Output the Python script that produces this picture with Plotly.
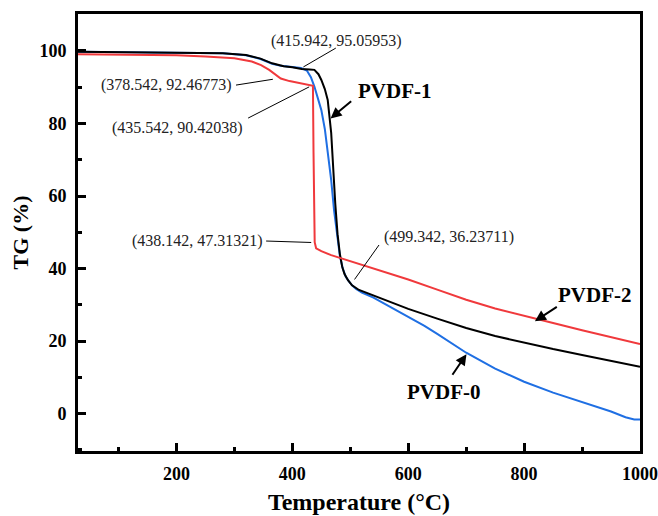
import plotly.graph_objects as go

# ---- data ----
t_pvdf0 = [30, 100, 200, 280, 320, 345, 365, 380, 400, 415, 425, 432, 438, 444, 450, 456, 461,
           467, 472, 477, 482, 487, 492, 497, 503, 510, 520, 540, 560, 600, 628, 650, 700, 750,
           800, 850, 900, 950, 975, 990, 1000]
v_pvdf0 = [99.8, 99.7, 99.6, 99.4, 98.8, 97.8, 96.5, 95.9, 95.6, 95.3, 94.6, 92.8, 90.2, 87.2,
           83.7, 78.5, 72.7, 64.4, 56.0, 49.0, 43.5, 40.0, 37.8, 36.6, 35.4, 34.4, 33.4, 32.0,
           30.2, 26.8, 24.2, 22.0, 16.8, 12.4, 8.8, 5.8, 3.1, 0.6, -1.0, -1.6, -1.6]

t_pvdf1 = [30, 100, 200, 280, 320, 345, 365, 385, 400, 416, 430, 438, 445, 450, 456, 461, 467,
           470, 474, 478, 482, 486, 490, 496, 503, 515, 540, 560, 600, 650, 700, 750, 800, 850,
           900, 950, 1000]
v_pvdf1 = [99.8, 99.7, 99.6, 99.4, 98.9, 97.9, 96.6, 95.8, 95.5, 95.06, 94.9, 94.8, 93.6, 92.0,
           89.5, 86.5, 77.4, 68.0, 58.0, 49.5, 44.0, 40.5, 38.5, 36.8, 35.4, 34.1, 32.6, 31.2,
           28.9, 26.2, 23.6, 21.4, 19.5, 17.8, 16.2, 14.6, 12.9]

t_pvdf2 = [30, 100, 200, 250, 300, 330, 346, 360, 372, 380, 395, 410, 425, 433, 435.5, 436.5,
           437.5, 438.5, 441, 450, 467, 479, 500, 553, 600, 650, 700, 750, 800, 850,
           900, 950, 1000]
v_pvdf2 = [99.1, 99.0, 98.8, 98.5, 98.0, 97.1, 96.1, 94.8, 93.3, 92.4, 91.7, 91.2, 90.8, 90.5,
           90.4, 72.0, 52.0, 47.3, 45.6, 44.8, 43.7, 43.1, 42.2, 39.5, 37.0, 34.2, 31.4, 29.0,
           26.9, 25.0, 23.0, 21.1, 19.2]

series_colors = ["#1f6fe3", "#000000", "#f0393c"]

x_ticks = [200, 400, 600, 800, 1000]
y_ticks = [0, 20, 40, 60, 80, 100]

FONT = "Liberation Serif"

fig = go.Figure()
for name, t, v, c in [("PVDF-0", t_pvdf0, v_pvdf0, series_colors[0]),
                      ("PVDF-1", t_pvdf1, v_pvdf1, series_colors[1]),
                      ("PVDF-2", t_pvdf2, v_pvdf2, series_colors[2])]:
    fig.add_trace(go.Scatter(x=t, y=v, mode="lines", name=name,
                             line=dict(color=c, width=2), showlegend=False))

# point-label annotations (text)
point_labels = [
    ("(415.942, 95.05953)", 475.7, 102.8),
    ("(378.542, 92.46773)", 182.0, 90.6),
    ("(435.542, 90.42038)", 202.5, 78.8),
    ("(438.142, 47.31321)", 235.4, 47.6),
    ("(499.342, 36.23711)", 669.5, 48.8),
]
for txt, x, y in point_labels:
    fig.add_annotation(x=x, y=y, xref="x", yref="y", text=txt, showarrow=False,
                       font=dict(family=FONT, size=16, color="#222"))

# leader lines
leaders = [
    (419, 95.6, 475, 100.8),
    (302.7, 90.6, 366.3, 92.2),
    (323.6, 81.5, 429.0, 90.1),
    (354.7, 47.6, 432.5, 47.2),
    (549.5, 46.5, 507.3, 37.0),
]
for x0, y0, x1, y1 in leaders:
    fig.add_shape(type="line", x0=x0, y0=y0, x1=x1, y1=y1, xref="x", yref="y",
                  line=dict(color="black", width=1))

# series labels with arrows
series_labels = [
    ("PVDF-1", 576.0, 89.0, 504.1, 86.5, 465.9, 81.4),
    ("PVDF-2", 922.3, 32.7, 859.0, 29.7, 818.6, 25.5),
    ("PVDF-0", 660.7, 6.0, 674.5, 10.3, 700.5, 16.4),
]
for txt, tx, ty, ax, ay, hx, hy in series_labels:
    fig.add_annotation(x=tx, y=ty, xref="x", yref="y", text="<b>%s</b>" % txt,
                       showarrow=False, font=dict(family=FONT, size=21, color="black"))
    fig.add_annotation(x=hx, y=hy, ax=ax, ay=ay, xref="x", yref="y", axref="x", ayref="y",
                       text="", showarrow=True, arrowhead=2, arrowsize=1.1,
                       arrowwidth=2, arrowcolor="black")

axis_common = dict(showgrid=False, zeroline=False, showline=True, mirror=True,
                   linecolor="black", linewidth=3, ticks="inside", ticklen=8,
                   tickwidth=3, tickcolor="black", automargin=False,
                   tickfont=dict(family=FONT, size=18, color="black"))

fig.update_xaxes(range=[30, 1000], tickvals=x_ticks, ticktext=[f"<b>{v}</b>" for v in x_ticks],
                 minor=dict(ticks="inside", ticklen=4, tickwidth=2.5, tickcolor="black",
                            tickvals=[100, 300, 500, 700, 900]),
                 ticklabelstandoff=4,
                 title=dict(text="<b>Temperature (°C)</b>",
                            font=dict(family=FONT, size=24, color="black"), standoff=11),
                 **axis_common)
fig.update_yaxes(range=[-10.3, 110.2], tickvals=y_ticks, ticktext=[f"<b>{v}</b>" for v in y_ticks],
                 minor=dict(ticks="inside", ticklen=4, tickwidth=2.5, tickcolor="black",
                            tickvals=[-10, 10, 30, 50, 70, 90]),
                 ticklabelstandoff=5,
                 title=dict(text="<b>TG (%)</b>",
                            font=dict(family=FONT, size=22, color="black"), standoff=5),
                 **axis_common)

fig.update_layout(width=658, height=516, margin=dict(l=78, r=18, t=14, b=65),
                  paper_bgcolor="white", plot_bgcolor="white")

fig.write_html("out.html", config={"displayModeBar": False},
               post_script="document.body.style.margin='0px';document.body.style.padding='0px';")
